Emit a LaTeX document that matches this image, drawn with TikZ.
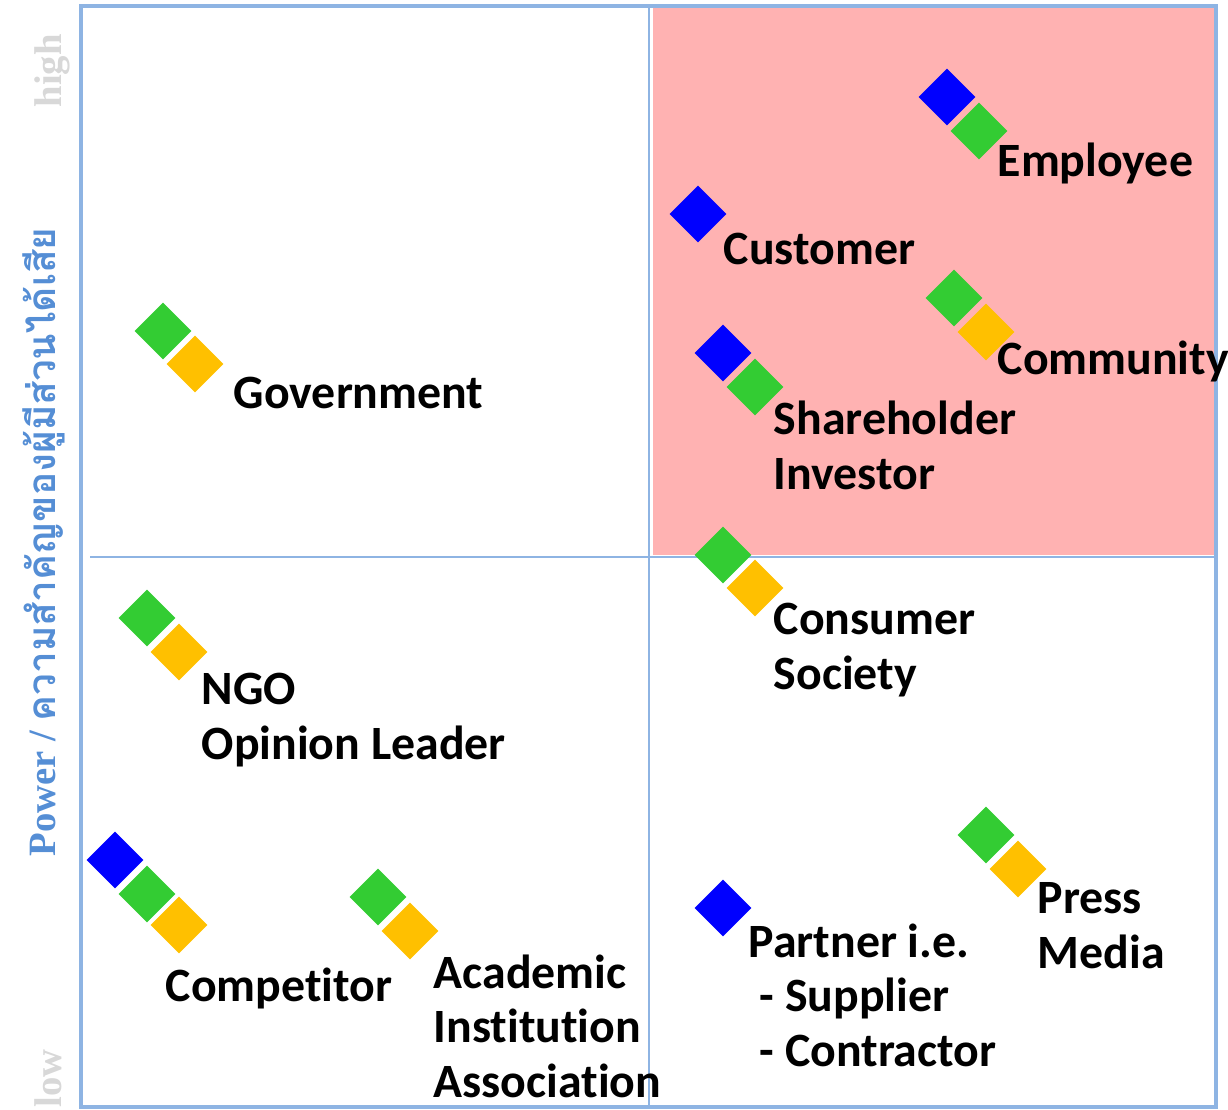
\documentclass[tikz,border=0pt]{standalone}
\usepackage{fontspec}
\usepackage{xcolor}
\usepackage{tikz}
\usetikzlibrary{shapes.geometric}
\setmainfont{Carlito}[Ligatures=NoCommon]
\newfontfamily\thaifont[Script=Thai]{Loma}
\newfontfamily\axisfont{Liberation Serif}

\definecolor{frameblue}{RGB}{142,180,227}
\definecolor{axisblue}{RGB}{85,142,213}
\definecolor{hotpink}{RGB}{255,178,178}
\definecolor{sblue}{RGB}{0,0,255}
\definecolor{sgreen}{RGB}{51,204,51}
\definecolor{sorange}{RGB}{255,192,0}
\definecolor{lowgray}{RGB}{216,216,216}

\tikzset{
  stake/.style={diamond, aspect=1, minimum size=0.574cm, inner sep=0pt, fill=#1},
  lbl/.style={anchor=base west, inner sep=0pt, align=left,
    font=\fontsize{13.6}{15.4}\selectfont\bfseries},
  ends/.style={anchor=base west, inner sep=0pt, rotate=90, text=lowgray,
    font=\fontsize{11}{13}\selectfont\axisfont\bfseries}
}

\begin{document}
\begin{tikzpicture}[x=0.01cm, y=-0.01cm]
        \useasboundingbox (0,0) rectangle (1228,1110);
        % quadrant
        \fill[hotpink] (653,6) rectangle (1215,555);
        \draw[frameblue, line width=1.1pt] (81,6) rectangle (1216,1107);
        \draw[frameblue, line width=0.7pt] (649,6)--(649,1107);
        \draw[frameblue, line width=0.7pt] (90,557)--(1216,557);

        % axis
        \node[ends] (hi) at (61,108) {high};
        \node[ends] (lo) at (61,1108) {low};
        \node[rotate=90, anchor=base, inner sep=0pt, text=axisblue,
          font=\fontsize{11}{13}\selectfont\bfseries] (ylab) at (55,542)
          {\axisfont Power / {\thaifont ความสำคัญของผู้มีส่วนได้เสีย}};

        % stakeholders
        \node[stake=sblue] (emp-b) at (947,97) {};
        \node[stake=sgreen] (emp-g) at (979,131) {};
        \node[stake=sblue] (cus-b) at (698,214) {};
        \node[stake=sgreen] (com-g) at (954,298) {};
        \node[stake=sorange] (com-o) at (986,332) {};
        \node[stake=sblue] (sha-b) at (723,353) {};
        \node[stake=sgreen] (sha-g) at (755,387) {};
        \node[stake=sgreen] (gov-g) at (163,331) {};
        \node[stake=sorange] (gov-o) at (195,364) {};
        \node[stake=sgreen] (csm-g) at (723,555) {};
        \node[stake=sorange] (csm-o) at (755,588) {};
        \node[stake=sgreen] (ngo-g) at (147,618) {};
        \node[stake=sorange] (ngo-o) at (179,652) {};
        \node[stake=sblue] (cpt-b) at (115,860) {};
        \node[stake=sgreen] (cpt-g) at (147,894) {};
        \node[stake=sorange] (cpt-o) at (179,925) {};
        \node[stake=sgreen] (aca-g) at (378,897) {};
        \node[stake=sorange] (aca-o) at (410,931) {};
        \node[stake=sblue] (ptn-b) at (723,908) {};
        \node[stake=sgreen] (prs-g) at (986,835) {};
        \node[stake=sorange] (prs-o) at (1018,869) {};

        % labels (placed at the baseline of their last line)
        \node[lbl] (emp) at (997,177) {Employee};
        \node[lbl] (cus) at (723,265) {Customer};
        \node[lbl] (com) at (997,375) {Community};
        \node[lbl] (sha) at (773,489) {Shareholder\\Investor};
        \node[lbl] (gov) at (233,409) {Government};
        \node[lbl] (csm) at (773,689) {Consumer\\Society};
        \node[lbl] (ngo) at (201,759) {NGO\\Opinion Leader};
        \node[lbl] (cpt) at (165,1001) {Competitor};
        \node[lbl] (aca) at (433,1097) {Academic\\Institution\\Association};
        \node[lbl] (ptn) at (748,1066) {Partner i.e.\\\hspace*{0.11cm}- Supplier\\\hspace*{0.11cm}- Contractor};
        \node[lbl] (prs) at (1037,968) {Press\\Media};
\end{tikzpicture}
\end{document}
